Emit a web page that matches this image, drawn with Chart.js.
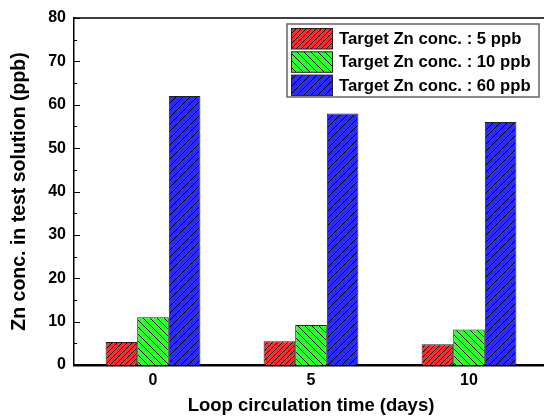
<!DOCTYPE html>
<html>
<head>
<meta charset="utf-8">
<script src="https://cdn.jsdelivr.net/npm/chart.js@4.4.1/dist/chart.umd.min.js"></script>
<style>
html,body{margin:0;padding:0;overflow:hidden;background:#fff;width:544px;height:417px;}
canvas{display:block;}
</style>
</head>
<body>
<canvas id="c" width="552" height="417" style="width:552px;height:417px"></canvas>
<script>
const categories = ['0', '5', '10'];
const seriesLabels = ['Target Zn conc. : 5 ppb', 'Target Zn conc. : 10 ppb', 'Target Zn conc. : 60 ppb'];
const zn5 = [5.3, 5.45, 4.8];
const zn10 = [11.0, 9.2, 8.2];
const zn60 = [62.0, 58.0, 56.0];
const yMin = 0, yMax = 80, yStep = 10, yMinorStep = 5;
const xTitle = 'Loop circulation time (days)';
const yTitle = 'Zn conc. in test solution (ppb)';

const FONT = '"Liberation Sans", Arial, sans-serif';

function hatch(color, size, dir) {
  const c = document.createElement('canvas');
  c.width = size; c.height = size;
  const g = c.getContext('2d');
  g.fillStyle = color; g.fillRect(0, 0, size, size);
  g.strokeStyle = '#000'; g.lineWidth = 1;
  g.beginPath();
  if (dir > 0) {
    g.moveTo(0, size); g.lineTo(size, 0);
    g.moveTo(-1, 1); g.lineTo(1, -1);
    g.moveTo(size - 1, size + 1); g.lineTo(size + 1, size - 1);
  } else {
    g.moveTo(0, 0); g.lineTo(size, size);
    g.moveTo(size - 1, -1); g.lineTo(size + 1, 1);
    g.moveTo(-1, size - 1); g.lineTo(1, size + 1);
  }
  g.stroke();
  return g.createPattern(c, 'repeat');
}

const ctx = document.getElementById('c').getContext('2d');
const pRed = hatch('#ff2a2a', 5, 1);
const pGreen = hatch('#2aff2a', 7, -1);
const pBlue = hatch('#2a2aff', 7, 1);

const framePlugin = {
  id: 'frame',
  afterDraw(chart) {
    const {ctx, chartArea: a, scales: {y}} = chart;
    ctx.save();
    ctx.strokeStyle = '#000';
    ctx.lineWidth = 1.5;
    ctx.beginPath();
    ctx.moveTo(a.left, a.top); ctx.lineTo(a.right, a.top); ctx.lineTo(a.right, a.bottom);
    ctx.stroke();
    // inward ticks
    ctx.lineWidth = 1;
    ctx.beginPath();
    for (let v = yMin; v <= yMax; v += yMinorStep) {
      const py = Math.round(y.getPixelForValue(v)) + 0.5;
      const len = (v % yStep === 0) ? 6 : 3;
      ctx.moveTo(a.left, py); ctx.lineTo(a.left + len, py);
    }
    ctx.stroke();
    // legend
    const bx = a.right - 261, by = a.top + 6, bw = 252, bh = 73;
    ctx.fillStyle = '#fff';
    ctx.fillRect(bx, by, bw, bh);
    ctx.strokeStyle = '#666'; ctx.lineWidth = 1.5;
    ctx.strokeRect(bx, by, bw, bh);
    const pats = [pRed, pGreen, pBlue];
    ctx.font = 'bold 16.7px ' + FONT;
    ctx.textBaseline = 'middle';
    ctx.textAlign = 'left';
    for (let i = 0; i < seriesLabels.length; i++) {
      const ry = by + 4.5 + i * 23.3;
      ctx.fillStyle = pats[i];
      ctx.fillRect(bx + 4.5, ry, 41, 20.5);
      ctx.strokeStyle = '#222'; ctx.lineWidth = 1;
      ctx.strokeRect(bx + 4.5, ry, 41, 20.5);
      ctx.fillStyle = '#000';
      ctx.fillText(seriesLabels[i], bx + 52, ry + 11);
    }
    ctx.restore();
  }
};

new Chart(ctx, {
  type: 'bar',
  data: {
    labels: categories,
    datasets: [
      {label: seriesLabels[0], data: zn5, backgroundColor: pRed, borderColor: '#222', borderWidth: 1},
      {label: seriesLabels[1], data: zn10, backgroundColor: pGreen, borderColor: '#222', borderWidth: 1},
      {label: seriesLabels[2], data: zn60, backgroundColor: pBlue, borderColor: '#222', borderWidth: 1}
    ]
  },
  options: {
    responsive: false,
    animation: false,
    devicePixelRatio: 1,
    layout: {padding: {top: 18, right: 4, left: 0, bottom: 0}},
    datasets: {bar: {categoryPercentage: 0.6, barPercentage: 1.0}},
    plugins: {legend: {display: false}, tooltip: {enabled: false}},
    scales: {
      x: {
        grid: {display: false, drawTicks: false},
        border: {display: true, color: '#000', width: 2.5},
        ticks: {color: '#000', padding: 6, font: {family: FONT, size: 16, weight: 'bold'}},
        title: {display: true, text: xTitle, color: '#000', padding: {top: 0, bottom: 0}, font: {family: FONT, size: 18.5, weight: 'bold'}},
        afterFit(s) { s.height = 52; }
      },
      y: {
        min: yMin, max: yMax,
        grid: {display: false, drawTicks: false},
        border: {display: true, color: '#000', width: 1.5},
        ticks: {stepSize: yStep, color: '#000', padding: 8, font: {family: FONT, size: 16, weight: 'bold'}},
        title: {display: true, text: yTitle, color: '#000', padding: {top: 8, bottom: 0}, font: {family: FONT, size: 19.5, weight: 'bold'}},
        afterFit(s) { s.width = 74; }
      }
    }
  },
  plugins: [framePlugin]
});
</script>
</body>
</html>
